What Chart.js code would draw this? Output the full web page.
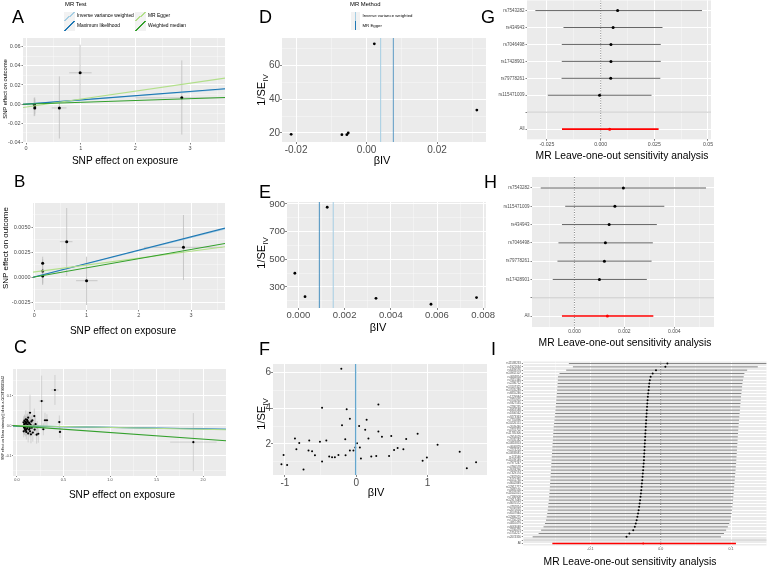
<!DOCTYPE html>
<html><head><meta charset="utf-8"><title>MR plots</title>
<script src="https://cdn.jsdelivr.net/npm/chart.js@4.4.1/dist/chart.umd.min.js"></script>
<style>
html,body{margin:0;padding:0;background:#fff}
body{position:relative;width:778px;height:567px;overflow:hidden;font-family:"Liberation Sans",Arial,Helvetica,sans-serif}
.t{position:absolute;white-space:nowrap;line-height:1;color:#000}
.lt{position:absolute;line-height:1;color:#000;white-space:nowrap}
</style></head><body>
<script>
// ================= DATA =================
const methodNames = ['Inverse variance weighted','Maximum likelihood','MR Egger','Weighted median'];
const methodColors = ['#A6CEE3','#1F78B4','#B2DF8A','#33A02C'];
const funnelMethods = ['Inverse variance weighted','MR Egger'];
const funnelColors = ['#A6CEE3','#1F78B4'];

// Panel A (MR scatter)
const aExp   = [0.15, 0.16, 0.16, 0.61, 0.99, 2.85];
const aOut   = [-0.0003, -0.0039, -0.0015, -0.0039, 0.0327, 0.0066];
const aExpLo = [0.12, 0.13, 0.13, 0.47, 0.79, 2.00];
const aExpHi = [0.18, 0.19, 0.19, 0.74, 1.20, 3.70];
const aOutLo = [-0.0125, -0.0120, -0.0100, -0.0358, 0.0030, -0.0317];
const aOutHi = [0.0066, 0.0050, 0.0070, 0.0290, 0.0620, 0.0456];
const aIntercept = [0, 0, -0.003, 0];
const aSlope     = [0.0043, 0.0044, 0.0083, 0.0019];
const aXTicks = [0,1,2,3], aXLabels = ['0','1','2','3'];
const aYTicks = [-0.04,-0.02,0,0.02,0.04,0.06], aYLabels = ['-0.04','-0.02','0.00','0.02','0.04','0.06'];

// Panel B (MR scatter)
const bExp   = [0.16, 0.16, 0.16, 0.62, 1.00, 2.855];
const bOut   = [0.00137, 0.0006, 0.0001, 0.00353, -0.00037, 0.00297];
const bExpLo = [0.13, 0.13, 0.13, 0.49, 0.80, 2.10];
const bExpHi = [0.19, 0.19, 0.19, 0.73, 1.21, 3.60];
const bOutLo = [-0.0008, -0.0006, -0.0007, 0.0001, -0.0028, -0.0003];
const bOutHi = [0.00203, 0.0018, 0.0009, 0.0069, 0.00203, 0.0062];
const bIntercept = [0, 0, 0.0005, 0];
const bSlope     = [0.00132, 0.00134, 0.00069, 0.00092];
const bXTicks = [0,1,2,3], bXLabels = ['0','1','2','3'];
const bYTicks = [-0.0025,0,0.0025,0.005], bYLabels = ['-0.0025','0.0000','0.0025','0.0050'];

// Panel C (MR scatter)
const cExp   = [0.07,0.075,0.08,0.08,0.085,0.09,0.09,0.095,0.10,0.10,0.105,0.11,0.11,0.115,0.12,0.12,0.125,0.13,0.135,0.14,0.14,0.145,0.15,0.155,0.16,0.165,0.17,0.18,0.186,0.19,0.20,0.211,0.218,0.229,0.265,0.283,0.301,0.322,0.408,0.455,0.462,1.896,0.072,0.078,0.088,0.092,0.098,0.102,0.108,0.118,0.128,0.138,0.148];
const cOut   = [0.012,-0.005,0.018,0.002,-0.010,0.008,-0.015,0.022,0.000,-0.020,0.012,0.005,-0.008,0.016,-0.025,0.028,0.002,-0.012,0.009,0.044,-0.018,0.004,-0.028,0.015,-0.006,0.019,-0.022,0.000,0.033,-0.012,0.006,-0.029,-0.004,-0.026,0.083,-0.011,0.019,0.019,0.120,0.013,-0.020,-0.054,-0.018,0.006,0.014,-0.003,0.010,-0.012,0.020,-0.002,0.011,-0.007,0.001];
const cExpSe = [0.01,0.01,0.01,0.01,0.01,0.01,0.01,0.012,0.01,0.01,0.01,0.012,0.01,0.01,0.012,0.01,0.01,0.012,0.01,0.015,0.01,0.01,0.012,0.01,0.012,0.01,0.012,0.01,0.015,0.012,0.012,0.015,0.015,0.015,0.03,0.02,0.02,0.02,0.04,0.02,0.02,0.25,0.01,0.01,0.01,0.01,0.01,0.01,0.01,0.01,0.01,0.01,0.01];
const cOutSe = [0.02,0.025,0.02,0.03,0.02,0.025,0.02,0.03,0.02,0.025,0.02,0.03,0.02,0.025,0.03,0.02,0.025,0.02,0.03,0.06,0.02,0.025,0.03,0.02,0.025,0.02,0.03,0.02,0.025,0.02,0.025,0.03,0.02,0.03,0.085,0.02,0.025,0.02,0.05,0.022,0.02,0.097,0.02,0.02,0.02,0.02,0.02,0.02,0.02,0.02,0.02,0.02,0.02];
const cIntercept = [0, 0, 0.001, 0];
const cSlope     = [-0.0045, -0.005, -0.006, -0.022];
const cXTicks = [0,0.5,1,1.5,2], cXLabels = ['0.0','0.5','1.0','1.5','2.0'];
const cYTicks = [-0.1,0,0.1], cYLabels = ['-0.1','0.0','0.1'];

// Panel D (funnel)
const dBeta  = [-0.0214, -0.0070, -0.0056, -0.0052, 0.0022, 0.0313];
const dInvSe = [19.2, 19.0, 19.0, 20.0, 72.5, 33.5];
const dMethodEst = [0.0040, 0.0076];
const dXTicks = [-0.02,0,0.02], dXLabels = ['-0.02','0.00','0.02'];
const dYTicks = [20,40,60], dYLabels = ['20','40','60'];

// Panel E (funnel)
const eBeta  = [-0.00015, 0.00029, 0.00125, 0.00336, 0.00574, 0.00771];
const eInvSe = [399, 230, 876, 218, 175, 223];
const eMethodEst = [0.00151, 0.00091];
const eXTicks = [0,0.002,0.004,0.006,0.008], eXLabels = ['0.000','0.002','0.004','0.006','0.008'];
const eYTicks = [300,500,700,900], eYLabels = ['300','500','700','900'];

// Panel F (funnel)
const fBeta  = [-0.21,-0.48,-0.135,0.31,-0.09,-0.2,0.145,0.04,0.125,0.31,0.86,0.36,0.49,-0.86,-0.66,-0.42,-0.155,0.17,0.7,-0.8,-0.51,0.01,1.14,-0.84,-0.67,-0.62,-0.09,-0.04,-0.014,0.05,0.53,0.58,0.66,1.45,-1.02,-0.58,-0.38,-0.34,-0.3,-0.25,-0.15,0.065,0.21,0.28,0.46,0.99,0.93,-0.48,1.68,-1.05,-0.97,1.55,-0.74];
const fInvSe = [6.2,4.02,3.93,4.2,3.4,3.04,3.35,3.0,2.8,2.7,2.57,2.4,2.44,2.3,2.2,2.2,2.26,2.3,2.28,2.05,2.13,2.04,1.96,1.7,1.63,1.6,1.63,1.63,1.8,1.8,1.67,1.78,1.7,1.57,1.39,1.37,1.3,1.26,1.26,1.39,1.37,1.19,1.3,1.33,1.33,1.24,1.07,1.02,0.98,0.87,0.83,0.65,0.57];
const fMethodEst = [-0.008, -0.010];
const fXTicks = [-1,0,1], fXLabels = ['-1','0','1'];
const fYTicks = [2,4,6], fYLabels = ['2','4','6'];

// Panel G (leave-one-out)
const gSnps = ['rs7543282','rs434943','rs7046498','rs17428901','rs79778261','rs115471009'];
const gEst  = [0.0079, 0.0058, 0.0048, 0.0048, 0.0047, -0.0005];
const gLo   = [-0.0304, -0.0173, -0.0181, -0.0181, -0.0182, -0.0246];
const gHi   = [0.0472, 0.0288, 0.0280, 0.0280, 0.0278, 0.0237];
const gAll  = [0.0042, -0.0180, 0.0270];
const gXTicks = [-0.025,0,0.025,0.05], gXLabels = ['-0.025','0.000','0.025','0.05'];

// Panel H (leave-one-out)
const hSnps = ['rs7543282','rs115471009','rs434943','rs7046498','rs79778261','rs17428901'];
const hEst  = [0.00196, 0.00162, 0.00139, 0.00124, 0.00120, 0.00100];
const hLo   = [-0.00135, -0.00037, -0.00050, -0.00064, -0.00068, -0.00087];
const hHi   = [0.00527, 0.00360, 0.00330, 0.00314, 0.00309, 0.00290];
const hAll  = [0.00132, -0.00050, 0.00316];
const hXTicks = [0,0.002,0.004], hXLabels = ['0.000','0.002','0.004'];

// Panel I (leave-one-out)
const iSnps = ['rs11588233','rs1921634','rs6439576','rs10932107','rs4684854','rs7615346','rs2286712','rs13107325','rs17035289','rs6855246','rs1229984','rs3755955','rs9327535','rs2280235','rs6918588','rs1800562','rs9273363','rs7755896','rs10226151','rs2049446','rs4731702','rs11785306','rs2954029','rs7035182','rs10818853','rs4646829','rs2274224','rs10838681','rs174546','rs11039149','rs7977247','rs4766578','rs9593296','rs7329174','rs2332920','rs1051730','rs8042849','rs12912777','rs4985556','rs11642015','rs7186908','rs12917449','rs8070572','rs4792814','rs2075650','rs6507944','rs12980275','rs7250229','rs4810479','rs6063048','rs2236479','rs5754217','rs2074356'];
const iEst = [0.0095,0.0067,-0.0067,-0.0114,-0.0143,-0.0155,-0.0162,-0.0167,-0.0172,-0.0178,
 -0.0183,-0.0187,-0.0190,-0.0194,-0.0197,-0.0200,-0.0203,-0.0206,-0.0209,-0.0212,
 -0.0215,-0.0218,-0.0220,-0.0223,-0.0226,-0.0228,-0.0231,-0.0233,-0.0236,-0.0238,
 -0.0242,-0.0246,-0.0250,-0.0254,-0.0258,-0.0262,-0.0267,-0.0271,-0.0276,-0.0281,
 -0.0287,-0.0293,-0.0299,-0.0306,-0.0314,-0.0322,-0.0331,-0.0342,-0.0354,-0.0368,
 -0.0390,-0.0445,-0.0486];
const iLo = [-0.1305,-0.1248,-0.1343,-0.1438,-0.1460,-0.1462,-0.1465,-0.1468,-0.1472,-0.1476,
 -0.1480,-0.1484,-0.1488,-0.1492,-0.1496,-0.1500,-0.1505,-0.1510,-0.1515,-0.1520,
 -0.1524,-0.1527,-0.1530,-0.1533,-0.1536,-0.1539,-0.1542,-0.1545,-0.1548,-0.1551,
 -0.1554,-0.1557,-0.1560,-0.1563,-0.1566,-0.1569,-0.1572,-0.1575,-0.1578,-0.1582,
 -0.1586,-0.1590,-0.1595,-0.1600,-0.1606,-0.1612,-0.1620,-0.1630,-0.1645,-0.1665,
 -0.1700,-0.1735,-0.1820];
const iHi = [0.1505,0.1380,0.1229,0.1190,0.1180,0.1170,0.1162,0.1157,0.1152,0.1147,
 0.1142,0.1138,0.1134,0.1130,0.1126,0.1122,0.1118,0.1114,0.1110,0.1106,
 0.1102,0.1099,0.1096,0.1093,0.1090,0.1087,0.1084,0.1081,0.1078,0.1075,
 0.1072,0.1068,0.1064,0.1060,0.1056,0.1052,0.1048,0.1044,0.1040,0.1036,
 0.1032,0.1028,0.1024,0.1019,0.1014,0.1008,0.1000,0.0990,0.0975,0.0955,
 0.0930,0.0900,0.0857];
const iAll = [-0.0248, -0.1540, 0.1070];
const iXTicks = [-0.1,0,0.1], iXLabels = ['-0.1','0.0','0.1'];

// ================= HELPERS =================
const FONT = '"Liberation Sans", Arial, Helvetica, sans-serif';

function minorOf(major, min, max){
  const st = major[1]-major[0]; const out=[];
  let v = major[0]-st/2; while (v - st >= min) v -= st;
  for (; v <= max + 1e-12; v += st) if (v >= min - 1e-12) out.push(v);
  return out;
}
function axisCfg(a, isX, size){
  const tk = [];
  a.ticks.forEach((v,i)=>tk.push({value:v, lbl:a.labels[i], minor:false}));
  if (!a.noMinor) minorOf(a.ticks, a.min, a.max).forEach(v=>tk.push({value:v, lbl:'', minor:true}));
  tk.sort((p,q)=>p.value-q.value);
  return {
    type:'linear', position: isX?'bottom':'left', min:a.min, max:a.max, reverse:!!a.reverse,
    afterBuildTicks:(s)=>{ s.ticks = tk.map(t=>Object.assign({},t)); },
    afterFit:(s)=>{ if (isX) s.height = size; else s.width = size; },
    ticks:{ autoSkip:false, maxRotation:0, minRotation:0, padding:(a.pad!=null?a.pad:1), color:'#4D4D4D',
      font:{family:FONT, size:a.font}, callback:(v,i,t)=> (t[i] ? t[i].lbl : '') },
    grid:{ drawOnChartArea:true, drawTicks:true, tickLength:(a.tl!=null?a.tl:2), tickWidth:0.6,
      color:(c)=> (c.tick && c.tick.minor) ? 'rgba(255,255,255,0.6)' : '#FFFFFF',
      lineWidth:(c)=> (c.tick && c.tick.minor) ? 0.6 : (a.gw||1),
      tickColor:(c)=> (c.tick && c.tick.minor) ? 'rgba(0,0,0,0)' : '#333333' },
    border:{display:false},
    title:{display:false}
  };
}
function makeChart(box, area, xA, yA, datasets){
  const [bl,bt,bw,bh] = box, [al,at,ar,ab] = area;
  const cv = document.createElement('canvas');
  cv.width = bw; cv.height = bh;
  cv.style.cssText = `position:absolute;left:${bl}px;top:${bt}px;width:${bw}px;height:${bh}px`;
  document.body.appendChild(cv);
  const bg = {id:'panelBg', beforeDraw(ch){ const c=ch.ctx, a=ch.chartArea; c.save(); c.fillStyle='#EBEBEB'; c.fillRect(a.left,a.top,a.right-a.left,a.bottom-a.top); c.restore(); }};
  return new Chart(cv, {type:'scatter', data:{datasets}, options:{
    responsive:false, animation:false, devicePixelRatio:1, events:[],
    layout:{padding:{top:at-bt, right:bl+bw-ar, left:0, bottom:0}},
    plugins:{legend:{display:false}, tooltip:{enabled:false}},
    scales:{x:axisCfg(xA,true,bt+bh-ab), y:axisCfg(yA,false,al-bl)}
  }, plugins:[bg]});
}
function segDs(list, color, width, order, dash){
  const data = [];
  list.forEach(s=>{ data.push({x:s[0],y:s[1]},{x:s[2],y:s[3]},{x:NaN,y:NaN}); });
  return {type:'line', data, borderColor:color, borderWidth:width, borderDash:dash||[], pointRadius:0, pointHoverRadius:0,
    showLine:true, spanGaps:false, fill:false, tension:0, order, borderCapStyle:'butt'};
}
function ptDs(xs, ys, color, r, order){
  return {type:'scatter', data:xs.map((x,i)=>({x, y:ys[i]})), pointRadius:r, pointHoverRadius:r,
    pointBackgroundColor:color, pointBorderColor:color, pointBorderWidth:0, showLine:false, order};
}
function mrScatter(box, area, xA, yA, ex, ey, exLo, exHi, eyLo, eyHi, icpt, slope, r, errW){
  const bars = [];
  ex.forEach((x,i)=>{ bars.push([x,eyLo[i],x,eyHi[i]]); bars.push([exLo[i],ey[i],exHi[i],ey[i]]); });
  const ds = [segDs(bars,'#BEBEBE',errW,20), ptDs(ex,ey,'#000000',r,10)];
  methodColors.forEach((c,k)=>{
    const x0 = xA.min, x1 = xA.max;
    ds.push(segDs([[x0, icpt[k]+slope[k]*x0, x1, icpt[k]+slope[k]*x1]], c, 1.1, 5-k));
  });
  return makeChart(box, area, xA, yA, ds);
}
function funnel(box, area, xA, yA, beta, invse, est, r, lw){
  const ds = [ptDs(beta, invse, '#000000', r, 10)];
  est.forEach((v,k)=> ds.push(segDs([[v, yA.min, v, yA.max]], funnelColors[k], lw[k], 3-k)));
  return makeChart(box, area, xA, yA, ds);
}
function forest(box, area, xA, yFont, snps, est, lo, hi, all, r, barW, allW){
  const n = snps.length;
  const rows = snps.concat(['','All']);
  const idx = rows.map((s,i)=>i);
  const yA = {min:-0.6, max:n+1.6, reverse:true, noMinor:true, ticks:idx, labels:rows, font:yFont, tl:1.5, pad:1};
  const ds = [
    segDs([[0, yA.min, 0, yA.max]], '#333333', 0.6, 30, [1,1.5]),
    segDs(snps.map((s,i)=>[lo[i], i, hi[i], i]), '#555555', barW, 20),
    ptDs(est, snps.map((s,i)=>i), '#000000', r, 10),
    segDs([[all[1], n+1, all[2], n+1]], '#FF0000', allW, 8),
    ptDs([all[0]], [n+1], '#FF0000', r, 7),
    segDs([[xA.min, n, xA.max, n]], '#BEBEBE', 0.8, 5)
  ];
  return makeChart(box, area, xA, yA, ds);
}
function txt(html, x, y, size, o){
  o = o || {};
  const d = document.createElement('div'); d.className = 't'; d.innerHTML = html;
  d.style.fontSize = size+'px'; d.style.left = x+'px'; d.style.top = y+'px';
  let tr = o.left ? 'translate(0,-50%)' : 'translate(-50%,-50%)';
  if (o.rot) tr += ' rotate(-90deg)';
  d.style.transform = tr;
  if (o.color) d.style.color = o.color;
  document.body.appendChild(d);
}
function letter(s, x, y, size){
  const d = document.createElement('div'); d.className='lt'; d.textContent = s;
  d.style.cssText += `left:${x}px;top:${y}px;font-size:${size}px;line-height:${size}px`;
  document.body.appendChild(d);
}
function key(x, y, w, h, color, kind){
  const d = document.createElement('div');
  const g = kind==='diag'
    ? `linear-gradient(to bottom right, rgba(0,0,0,0) calc(50% - 0.7px), ${color} calc(50% - 0.7px), ${color} calc(50% + 0.7px), rgba(0,0,0,0) calc(50% + 0.7px))`
    : `linear-gradient(to right, rgba(0,0,0,0) calc(50% - 0.7px), ${color} calc(50% - 0.7px), ${color} calc(50% + 0.7px), rgba(0,0,0,0) calc(50% + 0.7px))`;
  d.style.cssText = `position:absolute;left:${x}px;top:${y}px;width:${w}px;height:${h}px;background:${g},#F2F2F2`;
  document.body.appendChild(d);
}

// ================= PANELS =================
// A
mrScatter([0,0,245,172],[23,38,225,143],
  {min:-0.055,max:3.64,ticks:aXTicks,labels:aXLabels,font:5.5,tl:1.5,pad:0.5},
  {min:-0.0405,max:0.069,ticks:aYTicks,labels:aYLabels,font:5.5,tl:1.5,pad:1},
  aExp,aOut,aExpLo,aExpHi,aOutLo,aOutHi,aIntercept,aSlope,1.5,0.8);
// B
mrScatter([0,180,245,160],[33,203,225,310],
  {min:-0.025,max:3.65,ticks:bXTicks,labels:bXLabels,font:5.5,tl:1.5,pad:0.5},
  {min:-0.0033,max:0.0074,ticks:bYTicks,labels:bYLabels,font:5.5,tl:1.5,pad:1},
  bExp,bOut,bExpLo,bExpHi,bOutLo,bOutHi,bIntercept,bSlope,1.5,0.8);
// C
mrScatter([0,355,245,150],[13,369,226,476],
  {min:-0.043,max:2.247,ticks:cXTicks,labels:cXLabels,font:3.8,tl:1,pad:0.5},
  {min:-0.167,max:0.19,ticks:cYTicks,labels:cYLabels,font:3.5,tl:1,pad:0.5},
  cExp,cOut,cExp.map((v,i)=>v-cExpSe[i]),cExp.map((v,i)=>v+cExpSe[i]),
  cOut.map((v,i)=>v-cOutSe[i]),cOut.map((v,i)=>v+cOutSe[i]),cIntercept,cSlope,1.1,0.6);
// D
funnel([262,0,245,172],[282,38,486,142],
  {min:-0.024,max:0.0339,ticks:dXTicks,labels:dXLabels,font:10,tl:2,pad:0},
  {min:14.7,max:75.9,ticks:dYTicks,labels:dYLabels,font:10,tl:2,pad:0},
  dBeta,dInvSe,dMethodEst,1.4,[1,0.7]);
// E
funnel([262,180,245,155],[287,202,486,308],
  {min:-0.00049,max:0.00812,ticks:eXTicks,labels:eXLabels,font:9.5,tl:2,pad:0},
  {min:148,max:914,ticks:eYTicks,labels:eYLabels,font:9.5,tl:2,pad:0},
  eBeta,eInvSe,eMethodEst,1.4,[1,0.8]);
// F
funnel([262,355,245,145],[273,364,487,475],
  {min:-1.168,max:1.833,ticks:fXTicks,labels:fXLabels,font:10,tl:2,pad:0},
  {min:0.27,max:6.46,ticks:fYTicks,labels:fYLabels,font:10,tl:2,pad:0},
  fBeta,fInvSe,fMethodEst,1.0,[1.6,0.5]);
// G
forest([498,-10,280,177],[527,0.4,711,139.3],
  {min:-0.0343,max:0.0514,ticks:gXTicks,labels:gXLabels,font:5.2,tl:1.5,pad:0.5},
  4.5,gSnps,gEst,gLo,gHi,gAll,1.5,0.9,1.6);
// H
forest([498,170,280,180],[532,177,714,327],
  {min:-0.0017,max:0.00559,ticks:hXTicks,labels:hXLabels,font:5,tl:1.5,pad:0.5},
  4.5,hSnps,hEst,hLo,hHi,hAll,1.5,0.9,1.6);
// I
forest([498,355,280,215],[523.3,361.5,766.7,545.5],
  {min:-0.1953,max:0.1507,ticks:iXTicks,labels:iXLabels,font:3.6,tl:1,pad:0.5},
  2.8,iSnps,iEst,iLo,iHi,iAll,1.0,0.7,1.5);

// ================= TEXT =================
letter('A',12,8,18); letter('B',14,173,17); letter('C',14,338,18);
letter('D',259,8,18); letter('E',259,183,18); letter('F',259,340,18);
letter('G',481,8,18); letter('H',484,173,18); letter('I',491,340,18);

txt('SNP effect on exposure',125,161,10.1);
txt('SNP effect on outcome',6,89,5.8,{rot:true});
txt('SNP effect on exposure',123,331,10.1);
txt('SNP effect on outcome',6,248,8,{rot:true});
txt('SNP effect on exposure',122,495,10.1);
txt('SNP effect on Mean intensity || id:ebi-a-GCST90025943',4,418,3.4,{rot:true});

const betaTitle = '&beta;IV';
const seTitle = '1/SE<span style="font-size:0.72em;vertical-align:-0.3em">IV</span>';
txt(betaTitle,382,160,11); txt(seTitle,263,90,11,{rot:true});
txt(betaTitle,378,327,11); txt(seTitle,263,253,11,{rot:true});
txt(betaTitle,376,492,11); txt(seTitle,263,414,11,{rot:true});

txt('MR Leave-one-out sensitivity analysis',622,156,10.3);
txt('MR Leave-one-out sensitivity analysis',625,343,10.3);
txt('MR Leave-one-out sensitivity analysis',630,562,10.3);

// Legend A
txt('MR Test',65,5,5.9,{left:true});
key(64,11.5,11,9.5,methodColors[0],'diag'); key(64,21,11,9.5,methodColors[1],'diag');
key(135,11.5,11,9.5,methodColors[2],'diag'); key(135,21,11,9.5,methodColors[3],'diag');
txt(methodNames[0],77,16.3,4.9,{left:true}); txt(methodNames[1],77,25.8,4.9,{left:true});
txt(methodNames[2],148,16.3,4.9,{left:true}); txt(methodNames[3],148,25.8,4.9,{left:true});

// Legend D
txt('MR Method',350,5,5.9,{left:true});
key(350.5,12,9,9,funnelColors[0],'vert'); key(350.5,21,9,9,funnelColors[1],'vert');
txt(funnelMethods[0],362.5,16.3,4.3,{left:true}); txt(funnelMethods[1],362.5,25.5,4.3,{left:true});
</script>
</body></html>
